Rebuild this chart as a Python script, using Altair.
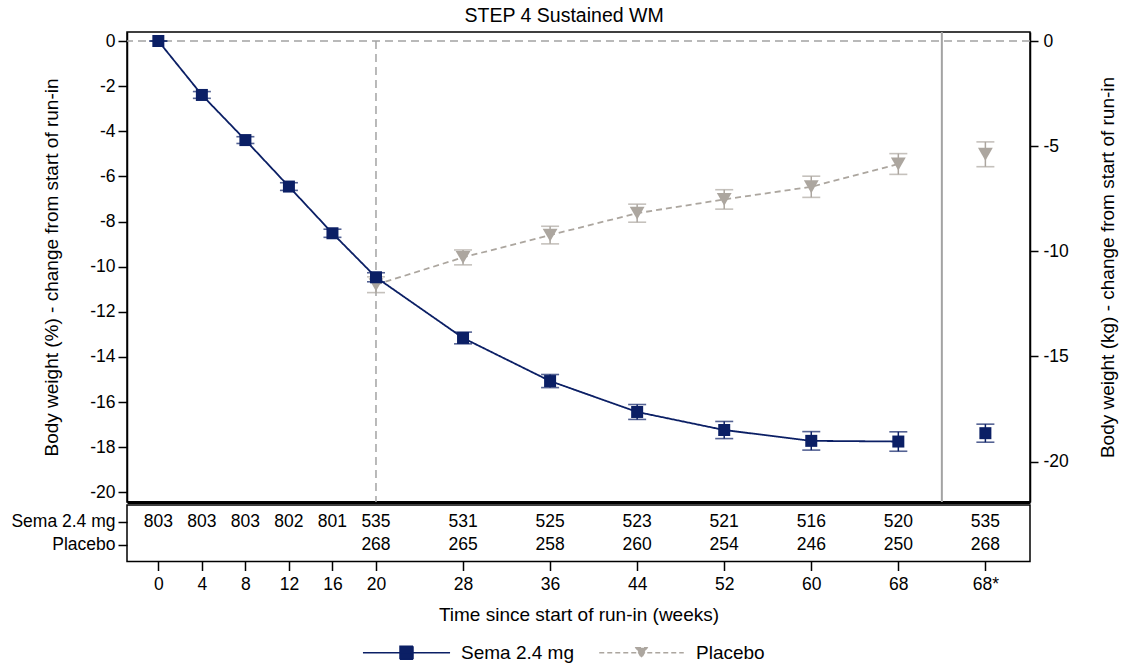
import altair as alt
import pandas as pd

FONT = "Liberation Sans"
NAVY = "#0b1f65"
TAUPE = "#aca69f"
REF = "#a3a3a3"

# ---- data ----
groups = ["Sema 2.4 mg", "Placebo"]
weeks = [0, 4, 8, 12, 16, 20, 28, 36, 44, 52, 60, 68, 76]   # 76 is the "68*" off-treatment column
week_tick_labels = ["0", "4", "8", "12", "16", "20", "28", "36", "44", "52", "60", "68", "68*"]
sema_mean = [0.0, -2.39, -4.39, -6.45, -8.52, -10.47, -13.16, -15.07, -16.44, -17.24, -17.72, -17.75, -17.38]
sema_err = [0.0, 0.15, 0.15, 0.17, 0.18, 0.20, 0.26, 0.29, 0.33, 0.38, 0.41, 0.43, 0.40]
placebo_weeks = [20, 28, 36, 44, 52, 60, 68, 76]
placebo_mean = [-10.80, -9.59, -8.60, -7.63, -7.02, -6.46, -5.45, -5.02]
placebo_err = [0.35, 0.33, 0.39, 0.40, 0.43, 0.47, 0.46, 0.55]
n_sema = [803, 803, 803, 802, 801, 535, 531, 525, 523, 521, 516, 520, 535]
n_placebo = [268, 265, 258, 260, 254, 246, 250, 268]
pct_ticks = [0, -2, -4, -6, -8, -10, -12, -14, -16, -18, -20]
kg_ticks = [0, -5, -10, -15, -20]

rows = []
for w, m, e in zip(weeks, sema_mean, sema_err):
    rows.append({"week": w, "group": groups[0], "mean": m, "lo": m - e, "hi": m + e})
for w, m, e in zip(placebo_weeks, placebo_mean, placebo_err):
    rows.append({"week": w, "group": groups[1], "mean": m, "lo": m - e, "hi": m + e})
df = pd.DataFrame(rows)

trows = []
for w, n in zip(weeks, n_sema):
    trows.append({"week": w, "row": groups[0], "n": str(n)})
for w, n in zip(placebo_weeks, n_placebo):
    trows.append({"week": w, "row": groups[1], "n": str(n)})
tdf = pd.DataFrame(trows)

tick_label_map = "{" + ",".join(f"'{w}':'{l}'" for w, l in zip(weeks, week_tick_labels)) + "}"

# ---- scales ----
x_scale = alt.Scale(domain=[-2.88, 80.1], nice=False, zero=False)
y_pct = alt.Scale(domain=[-20.43, 0.40], nice=False, zero=False)
y_kg = alt.Scale(domain=[-21.92, 0.43], nice=False, zero=False)
col_scale = alt.Scale(domain=groups, range=[NAVY, TAUPE])
series_color = {groups[0]: NAVY, groups[1]: TAUPE}

W, H_MAIN, H_TAB = 903, 470, 56.5
HYPHEN = "replace(datum.label, '\u2212', '-')"

x_main = alt.X("week:Q", scale=x_scale,
               axis=alt.Axis(labels=False, ticks=False, title=None, domainWidth=3, domainColor="black"))
y_axis = alt.Axis(orient="left", values=pct_ticks, title="Body weight (%) - change from start of run-in",
                  tickSize=9, labelPadding=3, titlePadding=28, domainWidth=1.5, labelExpr=HYPHEN)


def yq(field):
    return alt.Y(f"{field}:Q", scale=y_pct, axis=y_axis)


base = alt.Chart(df)

# reference lines
vline20 = alt.Chart(pd.DataFrame({"week": [20], "top": [0.0], "bot": [-20.43]})).mark_rule(
    color=REF, strokeDash=[8, 5], strokeWidth=1.5).encode(
    x=x_main, y=alt.Y("top:Q", scale=y_pct, axis=y_axis), y2="bot:Q")
vline72 = alt.Chart(pd.DataFrame({"week": [72]})).mark_rule(
    color=REF, strokeWidth=2).encode(x=x_main)


def series(g, dash, shape, size):
    c = series_color[g]
    b = base.transform_filter(alt.datum.group == g)
    line = b.transform_filter("datum.week < 72").mark_line(strokeWidth=1.8, strokeDash=dash, color=c).encode(
        x=x_main, y=yq("mean"))
    stem = b.mark_rule(strokeWidth=1.5, color=c).encode(x=x_main, y=yq("lo"), y2="hi:Q")
    cap_lo = b.mark_tick(orient="horizontal", size=18, thickness=1.6, color=c).encode(x=x_main, y=yq("lo"))
    cap_hi = b.mark_tick(orient="horizontal", size=18, thickness=1.6, color=c).encode(x=x_main, y=yq("hi"))
    pts = b.mark_point(filled=True, opacity=1, shape=shape, size=size, color=c).encode(x=x_main, y=yq("mean"))
    return [line, stem, cap_lo, cap_hi, pts]


placebo_layers = series(groups[1], [6, 4], "triangle-down", 220)
sema_layers = series(groups[0], [1, 0], "square", 144)

# legend-only layer (no rows drawn), symbols are line + marker paths
PATH_S = "M-6.7,0H6.7M-1,-1H1V1H-1Z"
PATH_P = "M-6.5,0H6.5M-0.85,-0.77H0.85L0,0.77Z"
leg = alt.Legend(title=None, orient="none", legendX=270, legendY=611, direction="horizontal",
                 labelFontSize=19, labelFont=FONT, labelColor="black", symbolSize=169,
                 symbolStrokeWidth=1.5, labelOffset=45, columnPadding=22, symbolOpacity=1)
legend_layer = base.transform_filter("false").mark_point(filled=True, opacity=1, size=169, strokeWidth=1.5).encode(
    x=x_main, y=yq("mean"),
    fill=alt.Fill("group:N", scale=col_scale, legend=leg),
    stroke=alt.Stroke("group:N", scale=col_scale, legend=leg),
    shape=alt.Shape("group:N", scale=alt.Scale(domain=groups, range=[PATH_S, PATH_P]), legend=leg),
    strokeDash=alt.StrokeDash("group:N", scale=alt.Scale(domain=groups, range=[[1, 0], [5, 3]]), legend=leg),
)

main_pct = alt.layer(vline20, vline72, *placebo_layers, *sema_layers, legend_layer)

kg_layer = alt.Chart(pd.DataFrame({"kg": [0.0]})).mark_rule(
    color=REF, strokeDash=[8, 5], strokeWidth=1.5).encode(
    y=alt.Y("kg:Q", scale=y_kg,
            axis=alt.Axis(orient="right", values=kg_ticks, title="Body weight (kg) - change from start of run-in",
                          tickSize=8, labelPadding=5, titlePadding=49, titleAngle=270, domainWidth=1.5,
                          labelExpr=HYPHEN)))

main = alt.layer(kg_layer, main_pct).resolve_scale(y="independent").properties(width=W, height=H_MAIN)

# number-at-risk table
label_expr = tick_label_map + "[datum.value + '']"
table = alt.Chart(tdf).mark_text(fontSize=17.5, font=FONT, color="black").encode(
    x=alt.X("week:Q", scale=x_scale,
            axis=alt.Axis(values=weeks, labelExpr=label_expr, title="Time since start of run-in (weeks)",
                          tickSize=9, labelPadding=5, titlePadding=12, domain=False)),
    y=alt.Y("row:N", scale=alt.Scale(type="point", domain=groups, padding=0.71),
            axis=alt.Axis(title=None, tickSize=9, labelPadding=3, domain=False)),
    text="n:N",
).properties(width=W, height=H_TAB)

chart = alt.vconcat(main, table, spacing=0).properties(
    title=alt.Title("STEP 4 Sustained WM", fontSize=19.5, fontWeight="normal", font=FONT, anchor="middle",
                    color="black", offset=4),
    padding={"left": 10, "top": 5, "right": 5, "bottom": 5},
).configure(font=FONT).configure_view(stroke="black", strokeWidth=1.5).configure_axis(
    labelFontSize=17.5, titleFontSize=19, labelColor="black", titleColor="black", tickColor="black",
    domainColor="black", grid=False, titleFontWeight="normal", labelFont=FONT, titleFont=FONT, tickWidth=1.5
)

chart.save("out.html", embed_options={"renderer": "svg", "actions": False})
